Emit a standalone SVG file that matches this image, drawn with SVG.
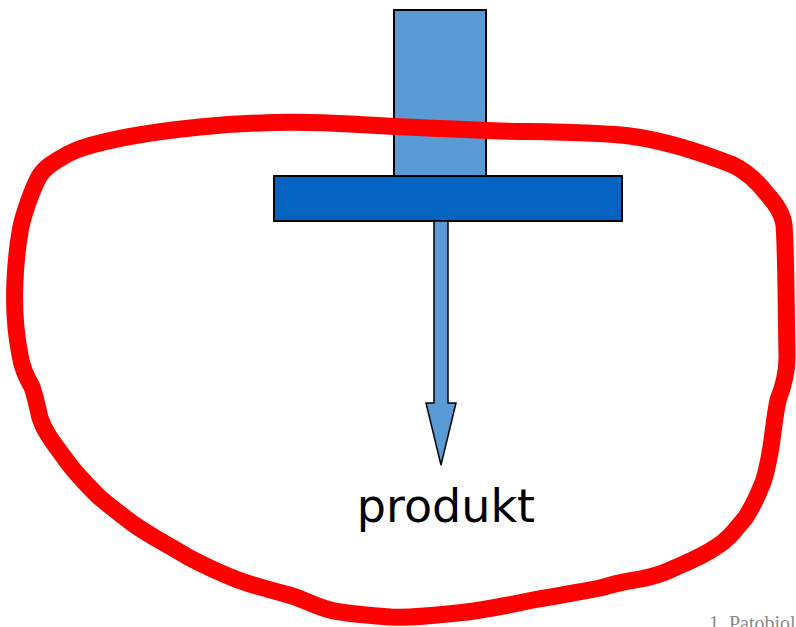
<svg xmlns="http://www.w3.org/2000/svg" width="796" height="627" viewBox="0 0 796 627">
<style>
.box{stroke:#000;stroke-width:2}
.light{fill:#5B9BD5}
.dark{fill:#0563C1}
.loop{fill:none;stroke:#FF0000;stroke-width:17;stroke-linejoin:round;stroke-linecap:round}
.lbl{font-family:"DejaVu Sans",Verdana,sans-serif;font-size:46px;fill:#000}
.foot{font-family:"Liberation Serif",serif;font-size:20px;fill:#8a8a8a}
</style>
<rect width="796" height="627" fill="#fff"/>
<g id="stem"><rect class="box light" x="394" y="10" width="92" height="166"/></g>
<g id="plate"><rect class="box dark" x="274" y="176" width="348" height="45"/></g>
<g id="connectors">
<polygon class="light" stroke="#000" stroke-width="1.5" stroke-linejoin="miter" points="434,221 448,221 448,403 456,403 441,465 426,403 434,403"/>
</g>
<g id="loop">
<path class="loop" d="M200,127 C250,122 300,121 350,124 C400,127 450,129 500,131 C550,132 600,132 630,136 C667,141 700,152 733,165 C750,173 760,185 767,194 C778,206 783,215 784,225 C786,250 786,300 787,357 C787,375 782,390 778,400 C775,415 774,425 772,440 C769,460 766,477 761,487 C756,500 752,507 746,517 C735,530 728,540 716,547 C700,558 685,563 670,570 C655,577 645,578 635,580 C620,582 612,585 600,588 C580,592 560,595 533,600 C505,606 480,611 457,613 C430,616 410,618 391,617 C365,615 345,614 330,610 C315,606 303,599 289,595 C270,590 255,586 238,580 C220,573 205,566 188,557 C165,543 150,536 132,523 C120,514 110,506 99,497 C88,486 76,474 66,460 C55,445 45,433 40,418 C37,405 35,395 32,387 C26,376 22,368 20,355 C15,330 14,300 15,280 C16,260 18,243 20,232 C22,218 27,205 32,192 C37,180 40,172 50,165 C60,158 70,152 82,148 C110,139 150,132 200,127 Z"/>
</g>
<g id="product"><text class="lbl" x="446" y="522" text-anchor="middle">produkt</text></g>
<g id="footer"><text class="foot" x="709" y="630">1. Patobiol</text></g>
</svg>
